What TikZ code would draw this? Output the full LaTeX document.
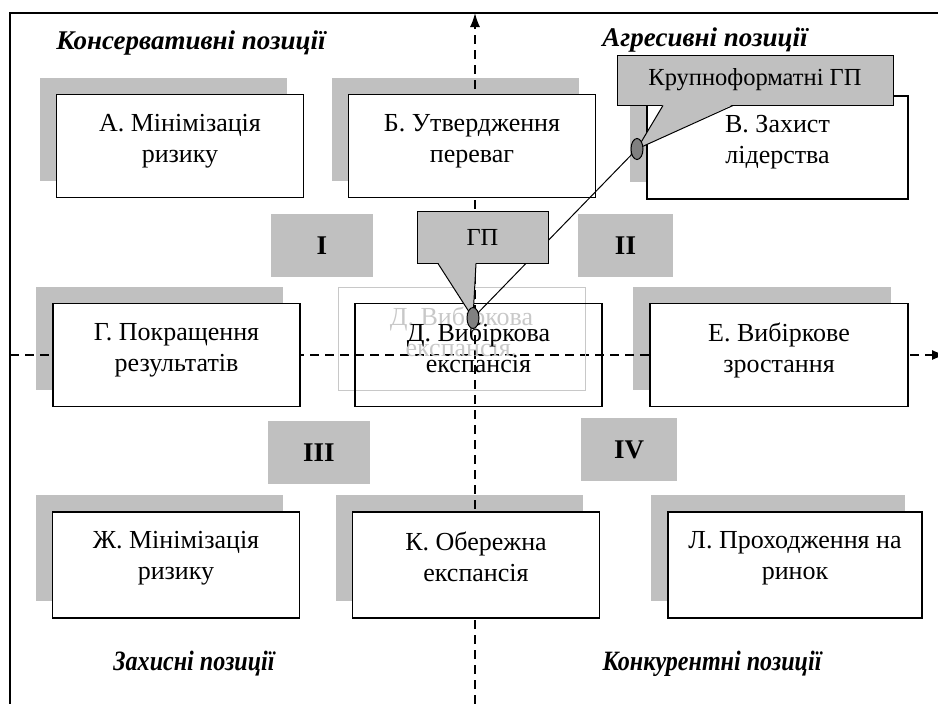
\documentclass[tikz,border=0pt]{standalone}
\usepackage{fontspec}
\setmainfont{Liberation Serif}
\newfontfamily\narrowserif[FakeStretch=0.86]{Liberation Serif}
\usetikzlibrary{positioning,arrows.meta,shapes.geometric}

\definecolor{shadegray}{RGB}{192,192,192}
\definecolor{dotgray}{RGB}{128,128,128}
\definecolor{ghostgray}{RGB}{200,200,200}

\tikzset{
	posbox/.style={draw=black,line width=1.2pt,fill=white,minimum width=247pt,minimum height=103pt,inner sep=0pt},
	shadebox/.style={fill=shadegray,minimum width=247pt,minimum height=103pt,inner sep=0pt},
	boxtext/.style={font=\fontsize{26}{31}\selectfont,align=center,inner sep=0pt},
	romanbox/.style={fill=shadegray,minimum width=100pt,minimum height=63pt,inner sep=0pt,font=\fontsize{27}{30}\selectfont\bfseries},
	zonetext/.style={font=\fontsize{27}{30}\selectfont\bfseries\itshape},
	zonenarrow/.style={font=\narrowserif\fontsize{28}{30}\selectfont\bfseries\itshape},
	callout/.style={draw=black,line width=1pt,fill=shadegray,inner sep=0pt,font=\fontsize{24.5}{28}\selectfont},
	tipmark/.style={ellipse,draw=black,line width=1pt,fill=dotgray,minimum width=12pt,minimum height=21pt,inner sep=0pt},
	axis/.style={line width=1.5pt,dash pattern=on 9pt off 6pt,-{Latex[length=14pt,width=10pt]}},
}

\begin{document}
\begin{tikzpicture}[x=1pt,y=-1pt]
	\clip (0,0) rectangle (938,704);

	% frame
	\draw[line width=1.5pt] (10,704) -- (10,13) -- (938,13);

	% zone labels
	\node[zonetext] (cons) at (191,43) {Консервативні позиції};
	\node[zonetext] (aggr) at (705,40) {Агресивні позиції};
	\node[zonenarrow] (prot) at (194,664) {Захисні позиції};
	\node[zonenarrow] (comp) at (712,664) {Конкурентні позиції};

	% shadows
	\node[shadebox] (shA) at (163,129) {};
	\node[shadebox] (shB) at (455,129) {};
	\node[shadebox,minimum width=261pt] (shV) at (760.5,130.5) {};
	\node[shadebox] (shG) at (159.5,338) {};
	\node[shadebox,minimum width=258pt] (shE) at (762,338) {};
	\node[shadebox,minimum height=106pt] (shZh) at (159,548) {};
	\node[shadebox,minimum height=106pt] (shK) at (459,548) {};
	\node[shadebox,minimum width=254pt,minimum height=106pt] (shL) at (778,548) {};

	% axes
	\coordinate (ybot) at (475,704);
	\coordinate (ytop) at (475,13);
	\coordinate (xleft) at (10,355);
	\coordinate (xright) at (946,355);
	\draw[axis] (ybot) -- (ytop);
	\draw[axis] (xleft) -- (xright);

	% ghost of box D
	\node[posbox,draw=ghostgray,fill=none,line width=1pt] (Dghost) at (461.5,338.5) {};
	\node[boxtext,text=ghostgray,below=20pt of Dghost.north] (Dghosttext) {Д. Вибіркова\\експансія.};

	% boxes
	\node[posbox] (A) at (180,146) {};
	\node[boxtext,below=20pt of A.north] (Atext) {А. Мінімізація\\ризику};
	\node[posbox] (B) at (472,146) {};
	\node[boxtext,below=20pt of B.north] (Btext) {Б. Утвердження\\переваг};
	\node[posbox,minimum width=261pt] (V) at (777.5,147.5) {};
	\node[boxtext,below=20pt of V.north] (Vtext) {В. Захист\\лідерства};

	\node[posbox] (G) at (176.5,355) {};
	\node[boxtext,below=20pt of G.north] (Gtext) {Г. Покращення\\результатів};
	\node[posbox,fill=none] (D) at (478.5,355) {};
	\node[boxtext,below=20pt of D.north] (Dtext) {Д. Вибіркова\\експансія};
	\node[posbox,minimum width=258pt] (E) at (779,355) {};
	\node[boxtext,below=20pt of E.north] (Etext) {Е. Вибіркове\\зростання};

	\node[posbox,minimum height=106pt] (Zh) at (176,565) {};
	\node[boxtext,below=20pt of Zh.north] (Zhtext) {Ж. Мінімізація\\ризику};
	\node[posbox,minimum height=106pt] (K) at (476,565) {};
	\node[boxtext,below=20pt of K.north] (Ktext) {К. Обережна\\експансія};
	\node[posbox,minimum width=254pt,minimum height=106pt] (L) at (795,565) {};
	\node[boxtext,below=20pt of L.north] (Ltext) {Л. Проходження на\\ринок};

	% quadrants
	\node[romanbox,minimum width=102pt] (q1) at (322,245.5) {I};
	\node[romanbox,minimum width=95pt] (q2) at (625.5,245.5) {II};
	\node[romanbox,minimum width=102pt] (q3) at (319,452.5) {III};
	\node[romanbox,minimum width=96pt] (q4) at (629,449.5) {IV};

	% callouts
	\coordinate (krtip) at (637,149);
	\coordinate (gptip) at (473,318);
	\draw[line width=1pt] (krtip) -- (gptip); % link between the two marks

	\node[callout,minimum width=131pt,minimum height=52pt] (GP) at (482.5,237) {ГП};
	\fill[shadegray] ([xshift=-44.5pt,yshift=1pt]GP.south) -- (gptip) -- ([xshift=-6.5pt,yshift=1pt]GP.south) -- cycle;
	\draw[line width=1pt] ([xshift=-44.5pt]GP.south) -- (gptip) -- ([xshift=-6.5pt]GP.south);

	\node[callout,minimum width=276pt,minimum height=50pt] (Kr) at (755,80) {Крупноформатні ГП};
	\fill[shadegray] ([xshift=-92pt,yshift=1pt]Kr.south) -- (krtip) -- ([xshift=-22pt,yshift=1pt]Kr.south) -- cycle;
	\draw[line width=1pt] ([xshift=-92pt]Kr.south) -- (krtip) -- ([xshift=-22pt]Kr.south);

	\node[tipmark] (gpdot) at (gptip) {};
	\node[tipmark] (krdot) at (krtip) {};

\end{tikzpicture}
\end{document}
